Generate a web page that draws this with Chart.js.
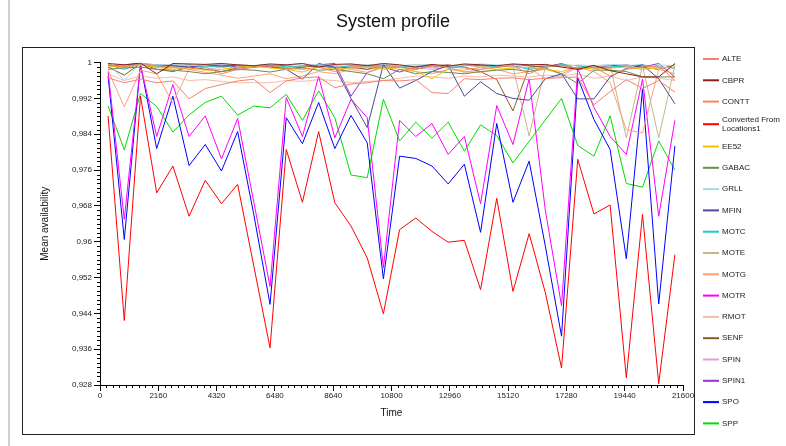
<!DOCTYPE html>
<html>
<head>
<meta charset="utf-8">
<script src="https://cdn.jsdelivr.net/npm/chart.js@4.4.1/dist/chart.umd.min.js"></script>
<style>
  html, body { margin: 0; padding: 0; background: #fff; }
  #wrap { position: relative; width: 786px; height: 446px; }
</style>
</head>
<body>
<div id="wrap"><canvas id="graph" width="786" height="446"></canvas></div>
<script>
// time stamps (s) of each sample
const times = [300, 900, 1500, 2100, 2700, 3300, 3900, 4500, 5100, 5700, 6300, 6900,
  7500, 8100, 8700, 9300, 9900, 10500, 11100, 11700, 12300, 12900, 13500, 14100,
  14700, 15300, 15900, 16500, 17100, 17700, 18300, 18900, 19500, 20100, 20700, 21300];

const xTicks = [0, 2160, 4320, 6480, 8640, 10800, 12960, 15120, 17280, 19440, 21600];
const yTicks = [0.928, 0.936, 0.944, 0.952, 0.96, 0.968, 0.976, 0.984, 0.992, 1];

const names = ["ALTE", "CBPR", "CONTT", "Converted From Locations1", "EE52", "GABAC", "GRLL",
  "MFIN", "MOTC", "MOTE", "MOTG", "MOTR", "RMOT", "SENF", "SPIN", "SPIN1", "SPO", "SPP"];

const colors = ["#f88070", "#8b2020", "#f28a5a", "#ff0000", "#f2c300", "#6f8a4f", "#add8e6",
  "#4b4b96", "#20c8c8", "#c4b888", "#ffa07a", "#ff00ff", "#f5bca8", "#8b5a2b", "#dda0dd",
  "#9932cc", "#0000ff", "#00dd00"];

// mean availability per series
const alte = [0.9966, 0.9955, 0.9963, 0.9955, 0.9959, 0.9919, 0.9942, 0.9951, 0.9959, 0.9963, 0.9933, 0.9959,
  0.9966, 0.9968, 0.9944, 0.9952, 0.9955, 0.9960, 0.9959, 0.9962, 0.9933, 0.9931, 0.9964, 0.9962,
  0.9965, 0.9966, 0.9962, 0.9965, 0.9966, 0.9968, 0.9906, 0.9935, 0.9962, 0.9942, 0.9960, 0.9934];
const cbpr = [0.9998, 0.9995, 0.9999, 0.9975, 0.9998, 0.9997, 0.9996, 0.9998, 0.9995, 0.9993, 0.9997, 0.9995,
  0.9998, 0.9990, 0.9996, 0.9997, 0.9993, 0.9998, 0.9995, 0.9990, 0.9996, 0.9992, 0.9997, 0.9995,
  0.9993, 0.9997, 0.9995, 0.9996, 0.9990, 0.9985, 0.9994, 0.9982, 0.9975, 0.9968, 0.9968, 0.9998];
const contt = [0.9995, 0.9990, 0.9998, 0.9993, 0.9990, 0.9985, 0.9990, 0.9975, 0.9985, 0.9990, 0.9993, 0.9988,
  0.9985, 0.9990, 0.9980, 0.9990, 0.9993, 0.9988, 0.9990, 0.9985, 0.9993, 0.9990, 0.9988, 0.9985,
  0.9990, 0.9993, 0.9975, 0.9990, 0.9993, 0.9988, 0.9990, 0.9970, 0.9985, 0.9990, 0.9993, 0.9960];
const converted = [0.9881, 0.9424, 0.9925, 0.9709, 0.9769, 0.9657, 0.9737, 0.9685, 0.9728, 0.9545, 0.9363, 0.9806,
  0.9688, 0.9846, 0.9687, 0.9635, 0.9564, 0.9439, 0.9627, 0.9653, 0.9623, 0.9599, 0.9603, 0.9493,
  0.9697, 0.9489, 0.9618, 0.9486, 0.9318, 0.9784, 0.9662, 0.9682, 0.9296, 0.9661, 0.9283, 0.9571];
const ee52 = [0.9992, 0.9990, 0.9995, 0.9990, 0.9985, 0.9988, 0.9983, 0.9985, 0.9990, 0.9992, 0.9988, 0.9985,
  0.9979, 0.9990, 0.9985, 0.9988, 0.9990, 0.9985, 0.9990, 0.9980, 0.9964, 0.9985, 0.9983, 0.9990,
  0.9985, 0.9988, 0.9990, 0.9985, 0.9980, 0.9990, 0.9985, 0.9988, 0.9990, 0.9985, 0.9988, 0.9990];
const gabac = [0.9985, 0.9988, 0.9990, 0.9985, 0.9983, 0.9980, 0.9975, 0.9980, 0.9985, 0.9983, 0.9979, 0.9985,
  0.9988, 0.9983, 0.9985, 0.9980, 0.9975, 0.9964, 0.9985, 0.9975, 0.9980, 0.9978, 0.9975, 0.9980,
  0.9983, 0.9985, 0.9980, 0.9988, 0.9975, 0.9953, 0.9983, 0.9983, 0.9980, 0.9968, 0.9968, 0.9968];
const grll = [0.9998, 0.9960, 0.9998, 0.9995, 0.9996, 0.9993, 0.9995, 0.9997, 0.9995, 0.9993, 0.9996, 0.9995,
  0.9997, 0.9995, 0.9993, 0.9996, 0.9995, 0.9997, 0.9993, 0.9995, 0.9996, 0.9990, 0.9995, 0.9997,
  0.9995, 0.9993, 0.9996, 0.9995, 0.9990, 0.9995, 0.9993, 0.9996, 0.9995, 0.9985, 0.9995, 0.9993];
const mfin = [0.9995, 0.9990, 0.9998, 0.9995, 0.9993, 0.9990, 0.9996, 0.9992, 0.9994, 0.9990, 0.9993, 0.9985,
  0.9963, 0.9998, 0.9990, 0.9920, 0.9855, 0.9996, 0.9943, 0.9960, 0.9980, 0.9994, 0.9925, 0.9957,
  0.9931, 0.9920, 0.9916, 0.9964, 0.9975, 0.9919, 0.9919, 0.9968, 0.9987, 0.9995, 0.9964, 0.9908];
const motc = [0.9995, 0.9985, 0.9997, 0.9990, 0.9993, 0.9995, 0.9990, 0.9993, 0.9988, 0.9993, 0.9995, 0.9990,
  0.9993, 0.9995, 0.9988, 0.9993, 0.9990, 0.9995, 0.9993, 0.9990, 0.9995, 0.9988, 0.9993, 0.9995,
  0.9990, 0.9993, 0.9985, 0.9990, 0.9995, 0.9993, 0.9988, 0.9990, 0.9993, 0.9995, 0.9990, 0.9988];
const mote = [0.9995, 0.9990, 0.9998, 0.9993, 0.9990, 0.9995, 0.9993, 0.9990, 0.9995, 0.9993, 0.9995, 0.9990,
  0.9992, 0.9995, 0.9990, 0.9993, 0.9995, 0.9990, 0.9993, 0.9995, 0.9988, 0.9993, 0.9995, 0.9990,
  0.9993, 0.9990, 0.9836, 0.9990, 0.9995, 0.9993, 0.9990, 0.9995, 0.9832, 0.9993, 0.9832, 0.9994];
const motg = [0.9983, 0.9901, 0.9983, 0.9975, 0.9910, 0.9985, 0.9978, 0.9972, 0.9965, 0.9970, 0.9975, 0.9964,
  0.9970, 0.9980, 0.9975, 0.9985, 0.9978, 0.9990, 0.9985, 0.9980, 0.9975, 0.9985, 0.9980, 0.9978,
  0.9985, 0.9975, 0.9980, 0.9985, 0.9975, 0.9990, 0.9980, 0.9955, 0.9850, 0.9843, 0.9985, 0.9975];
const motr = [0.9980, 0.9650, 0.9995, 0.9835, 0.9951, 0.9835, 0.9881, 0.9785, 0.9875, 0.9688, 0.9500, 0.9922,
  0.9835, 0.9969, 0.9832, 0.9918, 0.9877, 0.9542, 0.9871, 0.9835, 0.9864, 0.9795, 0.9835, 0.9685,
  0.9904, 0.9817, 0.9964, 0.9670, 0.9457, 0.9987, 0.9900, 0.9835, 0.9795, 0.9963, 0.9657, 0.9871];
const rmot = [0.9975, 0.9960, 0.9970, 0.9965, 0.9968, 0.9960, 0.9962, 0.9958, 0.9955, 0.9955, 0.9955, 0.9960,
  0.9958, 0.9962, 0.9960, 0.9955, 0.9958, 0.9960, 0.9965, 0.9970, 0.9968, 0.9965, 0.9970, 0.9968,
  0.9972, 0.9970, 0.9968, 0.9972, 0.9970, 0.9975, 0.9965, 0.9970, 0.9960, 0.9968, 0.9965, 0.9960];
const senf = [0.9990, 0.9972, 0.9998, 0.9985, 0.9980, 0.9990, 0.9985, 0.9980, 0.9988, 0.9992, 0.9990, 0.9985,
  0.9990, 0.9993, 0.9988, 0.9990, 0.9985, 0.9993, 0.9990, 0.9985, 0.9993, 0.9995, 0.9990, 0.9980,
  0.9962, 0.9892, 0.9990, 0.9993, 0.9995, 0.9985, 0.9990, 0.9988, 0.9993, 0.9990, 0.9985, 0.9995];
const spin = [0.9990, 0.9993, 0.9995, 0.9990, 0.9988, 0.9990, 0.9985, 0.9990, 0.9983, 0.9990, 0.9993, 0.9987,
  0.9990, 0.9993, 0.9990, 0.9988, 0.9985, 0.9990, 0.9993, 0.9988, 0.9985, 0.9990, 0.9978, 0.9985,
  0.9990, 0.9993, 0.9988, 0.9964, 0.9970, 0.9990, 0.9988, 0.9990, 0.9993, 0.9985, 0.9990, 0.9988];
const spin1 = [0.9993, 0.9995, 0.9998, 0.9993, 0.9995, 0.9990, 0.9993, 0.9995, 0.9990, 0.9993, 0.9995, 0.9993,
  0.9990, 0.9995, 0.9998, 0.9925, 0.9978, 0.9990, 0.9979, 0.9990, 0.9993, 0.9990, 0.9995, 0.9993,
  0.9990, 0.9995, 0.9993, 0.9990, 0.9998, 0.9985, 0.9990, 0.9993, 0.9995, 0.9990, 0.9998, 0.9968];
const spo = [0.9970, 0.9605, 0.9996, 0.9808, 0.9925, 0.9770, 0.9817, 0.9758, 0.9846, 0.9660, 0.9460, 0.9877,
  0.9819, 0.9911, 0.9808, 0.9882, 0.9821, 0.9517, 0.9791, 0.9786, 0.9769, 0.9729, 0.9773, 0.9621,
  0.9864, 0.9688, 0.9780, 0.9590, 0.9389, 0.9966, 0.9873, 0.9806, 0.9562, 0.9940, 0.9461, 0.9814];
const spp = [0.9903, 0.9805, 0.9931, 0.9902, 0.9845, 0.9883, 0.9911, 0.9925, 0.9883, 0.9903, 0.9899, 0.9929,
  0.9871, 0.9937, 0.9877, 0.9749, 0.9743, 0.9918, 0.9825, 0.9867, 0.9831, 0.9867, 0.9802, 0.9861,
  0.9837, 0.9776, 0.9824, 0.9872, 0.9920, 0.9815, 0.9791, 0.9881, 0.9730, 0.9722, 0.9825, 0.9760];

const seriesValues = [alte, cbpr, contt, converted, ee52, gabac, grll, mfin, motc, mote, motg,
  motr, rmot, senf, spin, spin1, spo, spp];

Chart.defaults.font.family = "'Liberation Sans', Arial, sans-serif";
Chart.defaults.color = "#222";

const fmtComma = (v) => String(Math.round(v * 1000) / 1000).replace(".", ",");

// frame around the plot + grey margin line
const framePlugin = {
  id: "frame",
  beforeDraw(chart) {
    const ctx = chart.ctx;
    ctx.save();
    ctx.fillStyle = "#fff";
    ctx.fillRect(0, 0, chart.width, chart.height);
    ctx.strokeStyle = "#cfcfcf";
    ctx.lineWidth = 2;
    ctx.beginPath();
    ctx.moveTo(9, 0);
    ctx.lineTo(9, chart.height);
    ctx.stroke();
    ctx.strokeStyle = "#222";
    ctx.lineWidth = 1;
    ctx.strokeRect(22.5, 47.5, 672, 387);
    ctx.restore();
  }
};

// small ticks between the labelled ones
const minorTicks = {
  id: "minorTicks",
  afterDraw(chart) {
    const ctx = chart.ctx;
    const x = chart.scales.x, y = chart.scales.y;
    ctx.save();
    ctx.strokeStyle = "#000";
    ctx.lineWidth = 1;
    ctx.beginPath();
    for (let t = 0; t <= 21600; t += 240) {
      if (t % 2160 === 0) continue;
      const px = Math.round(x.getPixelForValue(t)) + 0.5;
      ctx.moveTo(px, y.bottom);
      ctx.lineTo(px, y.bottom + 3);
    }
    for (let j = 0; j <= 72; j++) {
      if (j % 8 === 0) continue;
      const py = Math.round(y.getPixelForValue(0.928 + j * 0.001)) + 0.5;
      ctx.moveTo(x.left - 3, py);
      ctx.lineTo(x.left, py);
    }
    ctx.stroke();
    ctx.restore();
  }
};

// legend drawn to the right of the frame
const sideLegend = {
  id: "sideLegend",
  afterDraw(chart) {
    const ctx = chart.ctx;
    ctx.save();
    ctx.font = "8px 'Liberation Sans', Arial, sans-serif";
    ctx.textBaseline = "middle";
    ctx.fillStyle = "#222";
    chart.data.datasets.forEach((ds, i) => {
      let yy = 59 + 21.3 * i + (i > 3 ? 2.3 : 0) + (i === 3 ? 1.3 : 0);
      ctx.strokeStyle = ds.borderColor;
      ctx.lineWidth = 2;
      ctx.beginPath();
      ctx.moveTo(703, yy);
      ctx.lineTo(719, yy);
      ctx.stroke();
      // wrap long labels
      const words = ds.label.split(" ");
      const lines = [];
      let cur = "";
      words.forEach((w) => {
        const test = cur ? cur + " " + w : w;
        if (ctx.measureText(test).width > 62 && cur) {
          lines.push(cur);
          cur = w;
        } else {
          cur = test;
        }
      });
      lines.push(cur);
      const lh = 9;
      lines.forEach((ln, k) => {
        ctx.fillText(ln, 722, yy + (k - (lines.length - 1) / 2) * lh);
      });
    });
    ctx.restore();
  }
};

const datasets = names.map((name, i) => ({
  label: name,
  data: seriesValues[i].map((v, k) => ({ x: times[k], y: v })),
  borderColor: colors[i],
  backgroundColor: colors[i],
  borderWidth: 1,
  pointRadius: 0,
  tension: 0,
  fill: false
}));

const ctx = document.getElementById("graph").getContext("2d");
const myChart = new Chart(ctx, {
  type: "line",
  data: { datasets: datasets },
  options: {
    responsive: false,
    animation: false,
    layout: { padding: 0 },
    plugins: {
      legend: { display: false },
      tooltip: { enabled: false },
      title: {
        display: true,
        text: "System profile",
        color: "#111",
        font: { size: 18, weight: "normal" },
        padding: { top: 11, bottom: 30 }
      }
    },
    scales: {
      x: {
        type: "linear",
        min: 0,
        max: 21600,
        afterBuildTicks: (s) => { s.ticks = xTicks.map((v) => ({ value: v })); },
        afterFit: (s) => { s.height = 61; },
        ticks: {
          callback: (v) => String(v),
          font: { size: 8 },
          color: "#222",
          padding: 0,
          maxRotation: 0
        },
        grid: { drawOnChartArea: false, tickLength: 6, tickColor: "#000" },
        border: { color: "#000", width: 1 },
        title: { display: true, text: "Time", font: { size: 10 }, color: "#111", padding: { top: 0, bottom: 27 } }
      },
      y: {
        min: 0.928,
        max: 1,
        afterBuildTicks: (s) => { s.ticks = yTicks.map((v) => ({ value: v })); },
        afterFit: (s) => { s.width = 100; },
        ticks: {
          callback: (v) => fmtComma(v),
          font: { size: 8 },
          color: "#222",
          padding: 2
        },
        grid: { drawOnChartArea: false, tickLength: 6, tickColor: "#000" },
        border: { color: "#000", width: 1 },
        title: { display: true, text: "Mean availability", font: { size: 10 }, color: "#111", padding: { top: 39, bottom: 0 } }
      },
      pad: {
        type: "linear",
        position: "right",
        display: true,
        grid: { display: false },
        border: { display: false },
        ticks: { display: false },
        afterFit: (s) => { s.width = 103; }
      }
    }
  },
  plugins: [framePlugin, minorTicks, sideLegend]
});
</script>
</body>
</html>
